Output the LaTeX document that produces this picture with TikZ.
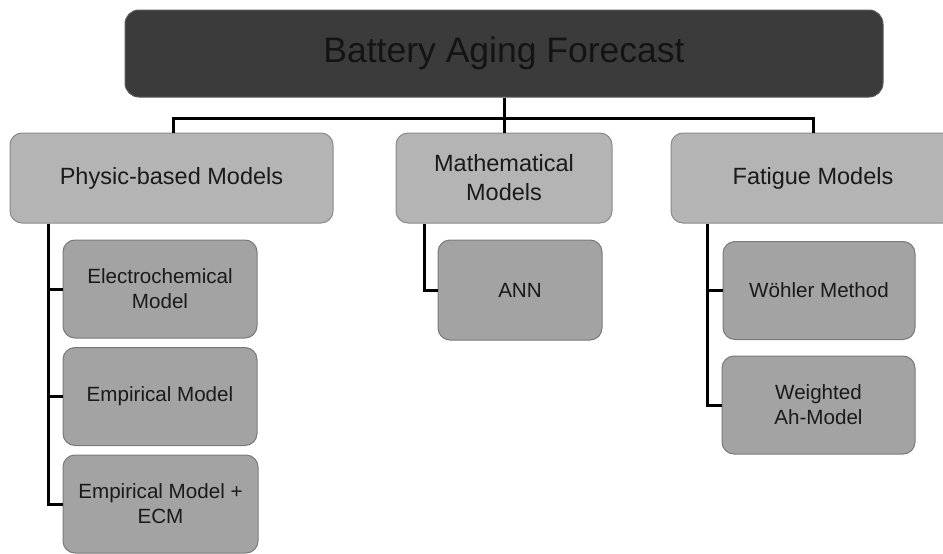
\documentclass[tikz,border=0pt]{standalone}
\usepackage{fontspec}
\setmainfont{Liberation Sans}
\usetikzlibrary{calc}
\definecolor{topfill}{HTML}{3B3B3B}
\definecolor{topline}{HTML}{5A5A5A}
\definecolor{lafill}{HTML}{B4B4B4}
\definecolor{laline}{HTML}{8A8A8A}
\definecolor{lbfill}{HTML}{A3A3A3}
\definecolor{lbline}{HTML}{7A7A7A}
\definecolor{txt}{HTML}{1A1A1A}
\tikzset{
  topbox/.style={draw=topline, fill=topfill, line width=1pt, rounded corners=14pt,
    minimum width=758pt, minimum height=87pt, inner sep=0pt, text=black!92,
    font=\fontsize{35.5}{42}\selectfont},
  catbox/.style={draw=laline, fill=lafill, line width=1pt, rounded corners=12pt,
    minimum height=90pt, inner sep=0pt, text=txt, align=center,
    font=\fontsize{23.5}{29}\selectfont},
  subbox/.style={draw=lbline, fill=lbfill, line width=1pt, rounded corners=12pt,
    minimum height=98pt, inner sep=0pt, text=txt, align=center,
    font=\fontsize{20.6}{25}\selectfont},
  conn/.style={draw=black, line width=3pt}
}
\begin{document}
\begin{tikzpicture}[x=1pt,y=-1pt]
\clip (0,0) rectangle (943,554);
\fill[white] (0,0) rectangle (943,554);
\coordinate (bus) at (504,118);
% nodes
\node[topbox] (top) at (504,53.5) {Battery Aging Forecast};
\node[catbox, minimum width=323pt] (phys) at (171.5,178) {Physic-based Models};
\node[catbox, minimum width=216pt] (math) at (504,178) {Mathematical\\Models};
\node[catbox, minimum width=284pt] (fat) at (813,178) {Fatigue Models};
\node[subbox, minimum width=194pt] (electro) at (160,289) {Electrochemical\\Model};
\node[subbox, minimum width=194pt] (emp) at (160,396.5) {Empirical Model};
\node[subbox, minimum width=195pt] (ecm) at (160.5,504) {Empirical Model +\\ECM};
\node[subbox, minimum width=164pt, minimum height=100pt] (ann) at (520,290) {ANN};
\node[subbox, minimum width=192pt] (wohl) at (819,290.5) {Wöhler Method};
\node[subbox, minimum width=193pt] (wah) at (818.5,405) {Weighted\\Ah-Model};
% tree connectors
\draw[conn] (top.south) -- (bus);
\draw[conn] ($(phys.north)+(1.5,0)$) |- (bus) -| (fat.north);
\draw[conn] (bus) -- (math.north);
\coordinate (pv) at ($(phys.south west)+(39,0)$);
\draw[conn] (pv) |- (electro.west);
\draw[conn] (pv) |- (emp.west);
\draw[conn] (pv) |- (ecm.west);
\coordinate (mv) at ($(math.south west)+(29,0)$);
\draw[conn] (mv) |- (ann.west);
\coordinate (fv) at ($(fat.south west)+(37,0)$);
\draw[conn] (fv) |- (wohl.west);
\draw[conn] (fv) |- (wah.west);
\end{tikzpicture}
\end{document}
